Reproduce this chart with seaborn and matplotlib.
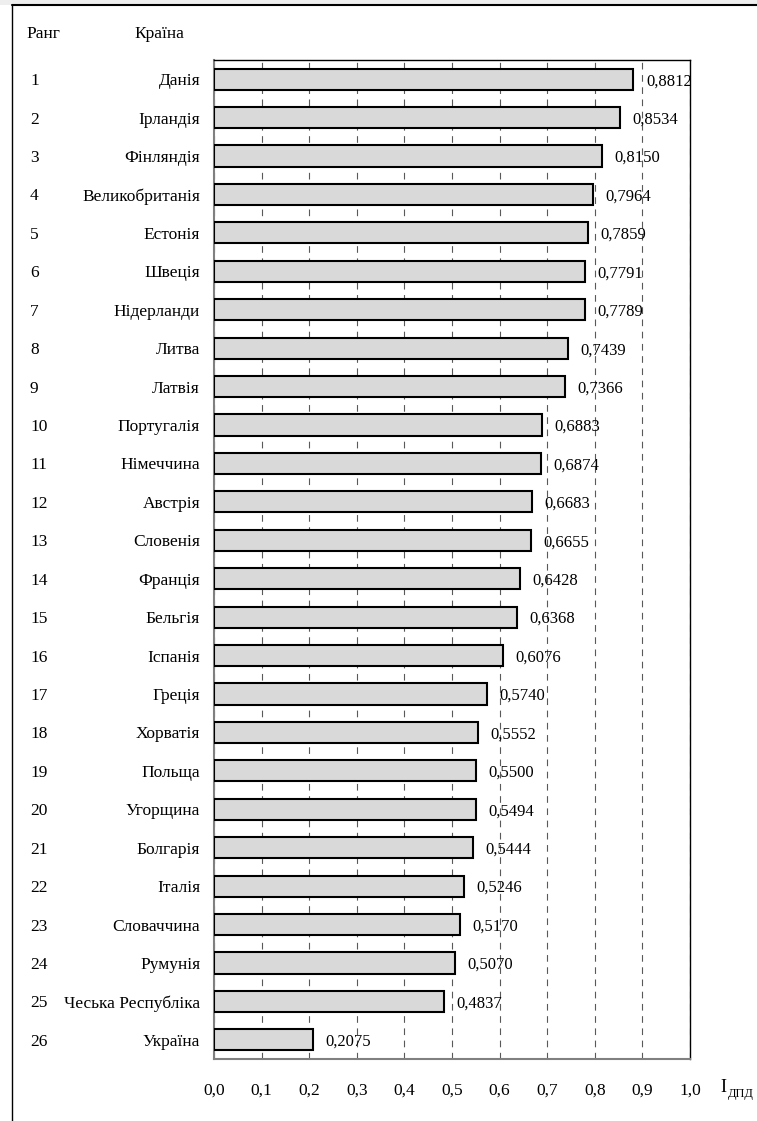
import numpy as np
import pandas as pd
import matplotlib
matplotlib.use("Agg")
import matplotlib.pyplot as plt
import matplotlib.transforms as mtransforms
from matplotlib.lines import Line2D
from matplotlib.patches import Rectangle
import seaborn as sns

ranks = list(range(1, 27))
countries = ["Данія", "Ірландія", "Фінляндія", "Великобританія", "Естонія", "Швеція",
             "Нідерланди", "Литва", "Латвія", "Португалія", "Німеччина", "Австрія",
             "Словенія", "Франція", "Бельгія", "Іспанія", "Греція", "Хорватія",
             "Польща", "Угорщина", "Болгарія", "Італія", "Словаччина", "Румунія",
             "Чеська Республіка", "Україна"]
values = [0.8812, 0.8534, 0.8150, 0.7964, 0.7859, 0.7791, 0.7789, 0.7439, 0.7366,
          0.6883, 0.6874, 0.6683, 0.6655, 0.6428, 0.6368, 0.6076, 0.5740, 0.5552,
          0.5500, 0.5494, 0.5444, 0.5246, 0.5170, 0.5070, 0.4837, 0.2075]
x_ticks = [0.0, 0.1, 0.2, 0.3, 0.4, 0.5, 0.6, 0.7, 0.8, 0.9, 1.0]

df = pd.DataFrame({"country": countries, "value": values, "rank": ranks})

sns.set_theme(style="white")
plt.rcParams["font.family"] = ["Liberation Serif", "DejaVu Serif"]
plt.rcParams["text.color"] = "black"
plt.rcParams["xtick.labelcolor"] = "black"
plt.rcParams["ytick.labelcolor"] = "black"

W, H = 757, 1121
fig = plt.figure(figsize=(W / 100, H / 100), dpi=100)
ax = fig.add_axes([214 / W, 1 - 1059 / H, 476 / W, 999 / H])

sns.barplot(data=df, y="country", x="value", orient="h", color="#d9d9d9",
            saturation=1, width=0.55, edgecolor="black", linewidth=1.5, ax=ax, zorder=3)

ax.set_xlim(0, 1.0)
ax.set_ylim(len(countries) - 0.5, -0.5)
ax.set_xticks(x_ticks)
ax.set_xticklabels([f"{t:.1f}".replace(".", ",") for t in x_ticks], fontsize=12.5, color="black")
ax.set_yticks(range(len(countries)))
ax.set_yticklabels(countries, fontsize=12.5, color="black", va="center_baseline")
ax.set_xlabel("")
ax.set_ylabel("")

ax.set_axisbelow(True)
ax.xaxis.grid(True, linestyle=(0, (6, 5)), color="#595959", linewidth=0.8, zorder=0)
ax.yaxis.grid(False)

ax.tick_params(axis="y", which="major", length=0, pad=10)
ax.set_yticks(np.arange(-0.5, len(countries), 1), minor=True)
ax.tick_params(axis="y", which="minor", length=3, direction="out", color="#808080", width=1)
ax.tick_params(axis="x", which="major", length=3, direction="out", color="#808080", width=1, pad=14)

for s in ["left", "bottom"]:
    ax.spines[s].set_color("#808080")
    ax.spines[s].set_linewidth(1.5)
for s in ["top", "right"]:
    ax.spines[s].set_color("black")
    ax.spines[s].set_linewidth(1.0)

for i, v in enumerate(values):
    ax.annotate(f"{v:.4f}".replace(".", ","), xy=(v, i), xytext=(9, 0),
                textcoords="offset points", va="center_baseline", ha="left",
                fontsize=12, color="black")

trans = mtransforms.blended_transform_factory(fig.transFigure, ax.transData)
for i, r in enumerate(ranks):
    ax.text(30 / W, i, str(r), transform=trans, va="center_baseline", ha="left",
            fontsize=12.5, color="black")

fig.text(26 / W, 1 - 34 / H, "Ранг", va="center", ha="left", fontsize=12.5)
fig.text(134 / W, 1 - 34 / H, "Країна", va="center", ha="left", fontsize=12.5)

fig.text(720 / W, 1 - 1088 / H, "I", va="center", ha="left", fontsize=13)
fig.text(728 / W, 1 - 1094 / H, "ДПД", va="center", ha="left", fontsize=9)

# page frame fragments
fig.add_artist(Rectangle((0, 1 - 5 / H), 1, 5 / H, transform=fig.transFigure,
                         facecolor="#eeeeee", edgecolor="none"))
fig.add_artist(Line2D([12 / W, 1], [1 - 5 / H, 1 - 5 / H], transform=fig.transFigure,
                      color="black", linewidth=1.5))
fig.add_artist(Line2D([12 / W, 12 / W], [0, 1 - 5 / H], transform=fig.transFigure,
                      color="black", linewidth=1.0))

fig.savefig("out.png", dpi=100)
